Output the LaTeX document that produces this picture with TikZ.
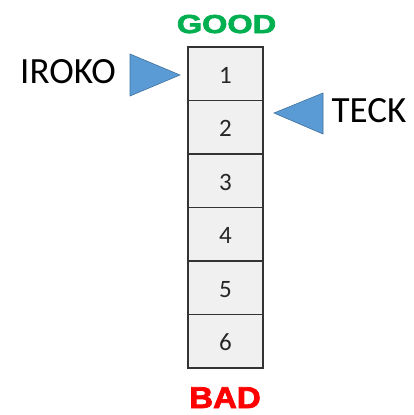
\documentclass[tikz,border=0pt]{standalone}
\usepackage{fontspec}
\setmainfont{Carlito}
\newfontfamily\headfont[BoldFeatures={FakeBold=2.5}]{Liberation Sans}
\definecolor{goodgreen}{HTML}{00B050}
\definecolor{badred}{HTML}{FF0000}
\definecolor{tribl}{HTML}{5B9BD5}
\definecolor{triedge}{HTML}{41719C}
\definecolor{boxfill}{HTML}{F0F0F0}
\definecolor{boxedge}{HTML}{333333}
\tikzset{
  cell/.style={draw=boxedge, fill=boxfill, line width=1.6pt, minimum width=75pt, minimum height=53.5pt, inner sep=0pt},
  digit/.style={anchor=base, inner sep=0pt, font=\fontsize{25}{25}\selectfont, text=black!85},
  lbl/.style={font=\fontsize{37}{37}\selectfont, anchor=base, inner sep=0pt, text=black},
  marker/.style={fill=tribl, draw=triedge, line width=0.6pt, line join=miter},
  head/.style={anchor=base, inner sep=0pt}
}
\begin{document}
\begin{tikzpicture}[x=1pt,y=-1pt]
\useasboundingbox (0,0) rectangle (414,415);
\foreach \i in {1,...,6}{
  \node[cell] (b\i) at (225.5, {47+53.5*(\i-0.5)}) {};
  \node[digit] (n\i) at (225.5, {47+53.5*(\i-1)+36}) {\i};
}
\node[head, text=goodgreen, xscale=1.25, font=\headfont\bfseries\fontsize{26}{26}\selectfont] (good) at (226.5,33) {GOOD};
\node[head, text=badred, xscale=1.1, font=\headfont\bfseries\fontsize{30}{30}\selectfont] (bad) at (225,408) {BAD};
\node[lbl] (iroko) at (68,83) {IROKO};
\node[lbl] (teck) at (369,122) {TECK};
\draw[marker] (130,54) -- (130,96) -- (180,75) -- cycle;
\draw[marker] (323,93) -- (323,134) -- (274,113) -- cycle;
\end{tikzpicture}
\end{document}
